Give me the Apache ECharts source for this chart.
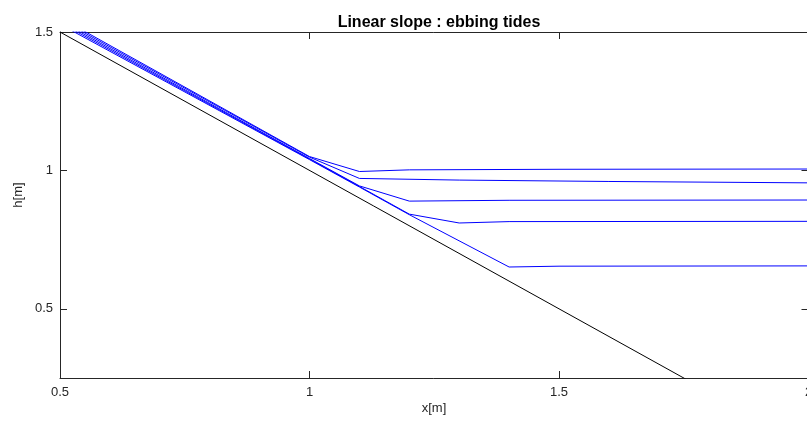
<!DOCTYPE html>
<html>
<head>
<meta charset="utf-8">
<script src="https://cdn.jsdelivr.net/npm/echarts@6/dist/echarts.min.js"></script>
<style>
  html, body { margin: 0; padding: 0; background: #fff; }
  #chart { width: 807px; height: 423px; }
</style>
</head>
<body>
<div id="chart"></div>
<script>
// tick labels
var xTicks = [0.5, 1, 1.5, 2];
var yTicks = [0.5, 1, 1.5];

// bottom profile (black)
var bedX = [0.5, 2.0];
var bedH = [1.5, 0.0];

// water surface profiles (blue)
var x1 = [0.5, 1.0, 1.1, 1.2, 1.5, 2.0];
var h1 = [1.552, 1.05, 0.996, 1.002, 1.004, 1.005];
var x2 = [0.5, 1.0, 1.1, 1.3, 1.6, 2.0];
var h2 = [1.546, 1.048, 0.971, 0.965, 0.96, 0.955];
var x3 = [0.5, 1.0, 1.1, 1.2, 1.4, 2.0];
var h3 = [1.54, 1.043, 0.944, 0.889, 0.892, 0.893];
var x4 = [0.5, 1.0, 1.1, 1.2, 1.3, 1.4, 2.0];
var h4 = [1.534, 1.041, 0.942, 0.842, 0.81, 0.815, 0.816];
var x5 = [0.5, 1.0, 1.1, 1.2, 1.4, 1.5, 2.0];
var h5 = [1.528, 1.039, 0.94, 0.84, 0.651, 0.654, 0.655];

var axisColor = '#262626';
var font = '"Liberation Sans", Arial, sans-serif';

function pairs(xs, hs){
	return xs.map(function(x, i){ return [x, hs[i]]; });
}

function lineSeries(xs, hs, color){
	return {
		type: 'line',
		data: pairs(xs, hs),
		symbol: 'none',
		clip: true,
		lineStyle: { color: color, width: 1 },
		silent: true
	};
}

var chart = echarts.init(document.getElementById('chart'));

var xAxisBase = {
	type: 'value',
	min: 0.5,
	max: 2,
	interval: 0.5,
	splitLine: { show: false },
	axisLine: { onZero: false, lineStyle: { color: axisColor, width: 1 } },
	axisTick: { inside: true, length: 7, lineStyle: { color: axisColor } }
};
var yAxisBase = {
	type: 'value',
	min: 0.25,
	max: 1.5,
	splitLine: { show: false },
	axisLine: { onZero: false, lineStyle: { color: axisColor, width: 1 } },
	axisTick: { inside: true, length: 7, customValues: yTicks, lineStyle: { color: axisColor } }
};

var option = {
	animation: false,
	backgroundColor: '#fff',
	title: {
		text: 'Linear slope : ebbing tides',
		left: 434,
		top: 10,
		textAlign: 'center',
		textStyle: { fontFamily: font, fontSize: 16, fontWeight: 'bold', color: '#000' }
	},
	grid: { left: 60, top: 32, right: -1.5, bottom: 45, outerBoundsMode: 'none', containLabel: false },
	xAxis: [
		Object.assign({}, xAxisBase, {
			position: 'bottom',
			axisLabel: {
				color: axisColor, fontFamily: font, fontSize: 13, margin: 8,
				customValues: xTicks,
				formatter: function(v){ return String(v); }
			}
		}),
		Object.assign({}, xAxisBase, {
			position: 'top',
			axisLabel: { show: false }
		})
	],
	yAxis: [
		Object.assign({}, yAxisBase, {
			position: 'left',
			axisLabel: {
				color: axisColor, fontFamily: font, fontSize: 13, margin: 7,
				customValues: yTicks,
				formatter: function(v){ return String(v); }
			}
		}),
		Object.assign({}, yAxisBase, {
			position: 'right',
			axisLabel: { show: false }
		})
	],
	graphic: [
		{
			type: 'text',
			x: 434, y: 408,
			style: { text: 'x[m]', fill: axisColor, font: '13px ' + font, align: 'center', verticalAlign: 'middle' }
		},
		{
			type: 'text',
			x: 18, y: 195,
			rotation: Math.PI / 2,
			style: { text: 'h[m]', fill: axisColor, font: '13px ' + font, align: 'center', verticalAlign: 'middle' }
		}
	],
	series: [
		lineSeries(bedX, bedH, '#000000'),
		lineSeries(x1, h1, '#0000ff'),
		lineSeries(x2, h2, '#0000ff'),
		lineSeries(x3, h3, '#0000ff'),
		lineSeries(x4, h4, '#0000ff'),
		lineSeries(x5, h5, '#0000ff')
	]
};

chart.setOption(option);
</script>
</body>
</html>
